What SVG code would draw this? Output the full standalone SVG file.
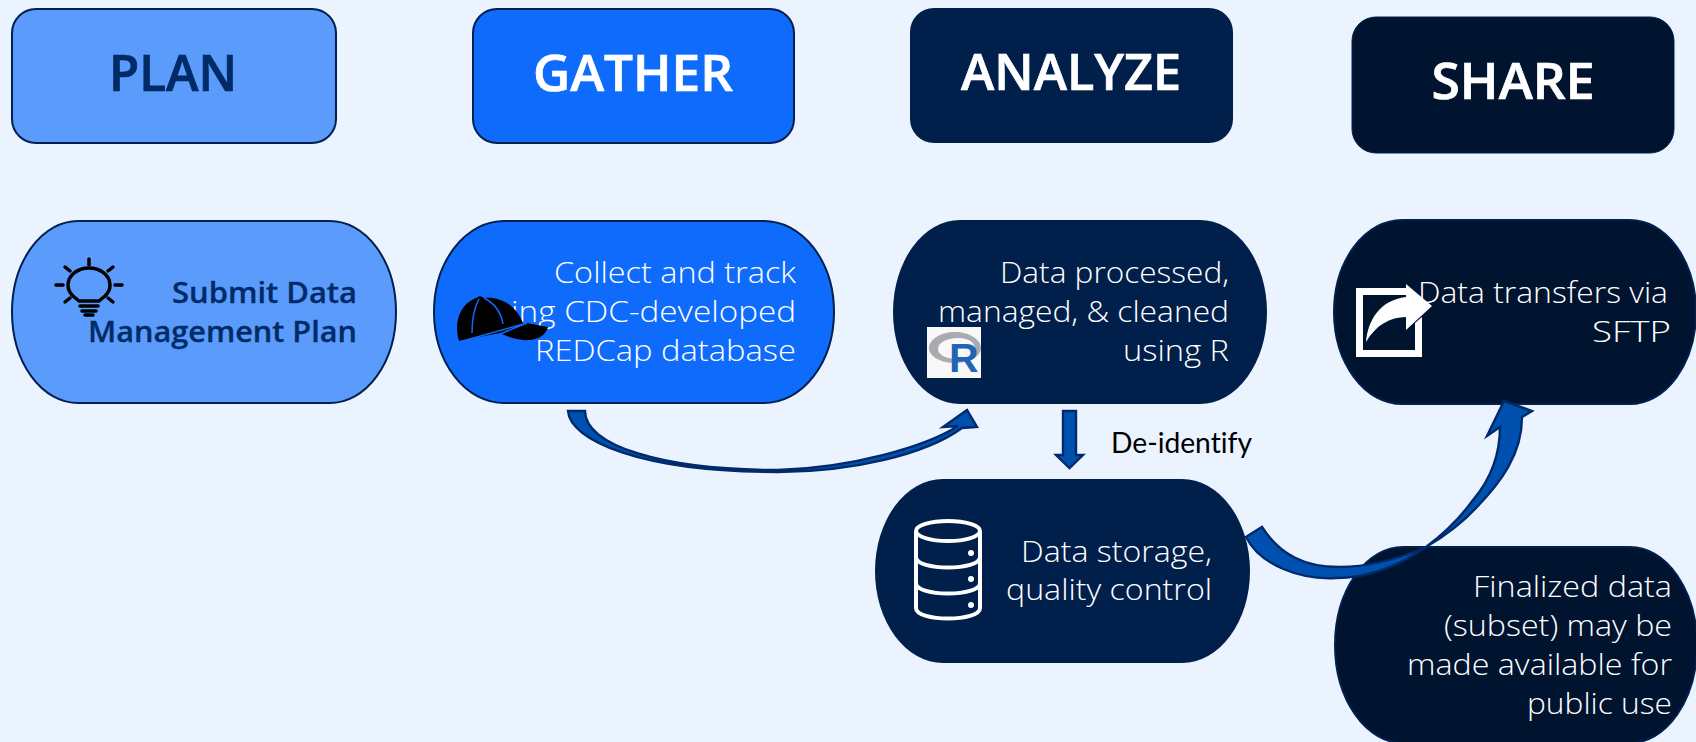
<svg xmlns="http://www.w3.org/2000/svg" width="1696" height="742" viewBox="0 0 1696 742">
<style>
.h{font-family:"Open Sans","Noto Sans",sans-serif;font-size:50px;font-weight:600;text-anchor:middle;fill:#fff;stroke:#fff;stroke-width:.7}
.t{font-family:"Open Sans","Noto Sans",sans-serif;font-size:29.5px;font-weight:300;text-anchor:end;fill:#fff}
.b{font-family:"Open Sans","Noto Sans",sans-serif;font-size:29px;font-weight:600;text-anchor:end;fill:#012b66;stroke:#012b66;stroke-width:.3}
.arrow{fill:#0050b0;stroke:#012a6b;stroke-width:2.4;stroke-linejoin:miter}
.ln{fill:none;stroke:#000;stroke-width:3.5;stroke-linecap:round;stroke-linejoin:round}
.db{fill:none;stroke:#fff;stroke-width:4}
</style>
<rect width="1696" height="742" fill="#ebf3ff"/>
<g id="plan-header"><rect x="12" y="9" width="324" height="134" rx="24" fill="#5b9bfb" stroke="#012050" stroke-width="2"/><text class="h" x="173" y="91" style="fill:#012b66;stroke:#012b66" textLength="128" lengthAdjust="spacingAndGlyphs">PLAN</text></g>
<g id="gather-header"><rect x="473" y="9" width="321" height="134" rx="24" fill="#0f6bfb" stroke="#012050" stroke-width="2"/><text class="h" x="633" y="91" textLength="200" lengthAdjust="spacingAndGlyphs">GATHER</text></g>
<g id="analyze-header"><rect x="910" y="8" width="323" height="135" rx="24" fill="#011f4b"/><text class="h" x="1071" y="90" textLength="220" lengthAdjust="spacingAndGlyphs">ANALYZE</text></g>
<g id="share-header"><rect x="1352" y="17" width="322" height="136" rx="24" fill="#00142f" stroke="#012050" stroke-width="1"/><text class="h" x="1513" y="99" textLength="163" lengthAdjust="spacingAndGlyphs">SHARE</text></g>

<g id="plan-node"><path d="M78,221H330A66,91 0 0 1 396,312A66,91 0 0 1 330,403H78A66,91 0 0 1 12,312A66,91 0 0 1 78,221Z" fill="#5b9bfb" stroke="#012050" stroke-width="2"/>
<g id="bulb"><path class="ln" d="M79,301L73,296A21,17 0 1 1 105,296L99,301Z"/><path class="ln" d="M80,306h18M82,311h14M85,315h8"/><path class="ln" d="M89,259v6M56,285h7M115,285h7M65,267l5,4M113,267l-5,4M65,302l5,-4M113,302l-5,-4"/></g>
<text class="b" x="357" y="303" textLength="185" lengthAdjust="spacingAndGlyphs">Submit Data</text><text class="b" x="357" y="342" textLength="269" lengthAdjust="spacingAndGlyphs">Management Plan</text></g>

<g id="gather-node"><path d="M504,221H764A70,91 0 0 1 834,312A70,91 0 0 1 764,403H504A70,91 0 0 1 434,312A70,91 0 0 1 504,221Z" fill="#0f6bfb" stroke="#012050" stroke-width="2"/>
<text class="t" x="796" y="283" textLength="242" lengthAdjust="spacingAndGlyphs">Collect and track</text><text class="t" x="796" y="322" textLength="320" lengthAdjust="spacingAndGlyphs">using CDC-developed</text><text class="t" x="796" y="361" textLength="261" lengthAdjust="spacingAndGlyphs">REDCap database</text>
<g id="hat"><path d="M459,341C454,325 458,305 476,298L480,296L484,298C500,296 516,305 523,323L527,323L548,327C546,334 540,339 530,340C518,341 508,337 500,333Z" fill="#000"/><path d="M472,333C472,320 474,308 479,299M484,298C494,303 501,312 503,324M500,334L527,323M459,342L527,323" fill="none" stroke="#0f6bfb" stroke-width="1.500"/></g></g>

<g id="analyze-node"><path d="M960,220H1200A67,92 0 0 1 1267,312A67,92 0 0 1 1200,404H960A67,92 0 0 1 893,312A67,92 0 0 1 960,220Z" fill="#011f4b"/>
<text class="t" x="1229" y="283" textLength="229" lengthAdjust="spacingAndGlyphs">Data processed,</text><text class="t" x="1229" y="322" textLength="291" lengthAdjust="spacingAndGlyphs">managed, &amp; cleaned</text><text class="t" x="1229" y="361" textLength="106" lengthAdjust="spacingAndGlyphs">using R</text>
<g id="r-logo"><rect x="927" y="327" width="54" height="51" fill="#f8f8f8"/><path fill-rule="evenodd" d="M955,332C970,332 981,340 981,348C981,356 970,363 955,363C940,363 929,356 929,348C929,340 940,332 955,332ZM958,338C946,338 938,343 938,349C938,355 946,359 958,359C970,359 975,354 975,349C975,343 970,338 958,338Z" fill="#a9abae"/><text x="949" y="372" font-family="'Liberation Sans',sans-serif" font-size="41" font-weight="700" fill="#2165b5">R</text></g></g>

<g id="share-node"><path d="M1402,220H1630A66,92 0 0 1 1696,312A66,92 0 0 1 1630,404H1402A68,92 0 0 1 1334,312A68,92 0 0 1 1402,220Z" fill="#00142f" stroke="#012050" stroke-width="2"/>
<text class="t" x="1668" y="303" textLength="250" lengthAdjust="spacingAndGlyphs">Data transfers via</text><text class="t" x="1671" y="342" textLength="79" lengthAdjust="spacingAndGlyphs">SFTP</text>
<g id="share-icon" fill="#fff"><path d="M1356,288H1406V295H1363V350H1415V323L1422,317V357H1356Z"/><path d="M1366,342C1368,320 1380,300 1406,297V284L1432,306L1406,330V317C1390,317 1376,325 1366,342Z"/></g></g>

<g id="storage-node"><path d="M943,479H1182A68,92 0 0 1 1250,571A68,92 0 0 1 1182,663H943A68,92 0 0 1 875,571A68,92 0 0 1 943,479Z" fill="#011f4b"/>
<g id="db-icon"><ellipse class="db" cx="948" cy="531" rx="32" ry="10"/><path class="db" d="M916,531V608C916,622 980,622 980,608V531M916,557C916,571 980,571 980,557M916,583C916,597 980,597 980,583"/><circle cx="971" cy="553" r="3" fill="#fff"/><circle cx="971" cy="579" r="3" fill="#fff"/><circle cx="971" cy="605" r="3" fill="#fff"/></g>
<text class="t" x="1212" y="562" textLength="191" lengthAdjust="spacingAndGlyphs">Data storage,</text><text class="t" x="1212" y="600" textLength="206" lengthAdjust="spacingAndGlyphs">quality control</text></g>

<g id="finalized-node"><path d="M1403,547H1630A67,98 0 0 1 1697,645A67,98 0 0 1 1630,743H1403A68,98 0 0 1 1335,645A68,98 0 0 1 1403,547Z" fill="#00142f" stroke="#012050" stroke-width="2"/>
<text class="t" x="1672" y="597" textLength="199" lengthAdjust="spacingAndGlyphs">Finalized data</text><text class="t" x="1672" y="636" textLength="228" lengthAdjust="spacingAndGlyphs">(subset) may be</text><text class="t" x="1672" y="675" textLength="265" lengthAdjust="spacingAndGlyphs">made available for</text><text class="t" x="1672" y="714" textLength="145" lengthAdjust="spacingAndGlyphs">public use</text></g>

<g id="connectors">
<path class="arrow" d="M568,411C570,440 640,472 778,472C850,472 925,455 962,428L977,427L967,410L943,427L958,426C925,447 850,468 778,470C660,470 585,445 585,411Z"/>
<path class="arrow" d="M1063,411H1076V455H1083L1069.500,468L1056,455H1063Z"/>
<path class="arrow" d="M1246,537C1260,565 1300,580 1336,578C1370,578 1400,565 1426,547C1450,533 1465,520 1477,507C1500,483 1522,455 1522,417L1532,411L1504,401L1487,436L1500,427C1500,455 1490,480 1473,500C1460,518 1445,533 1426,547C1400,558 1370,567 1339,567C1305,567 1280,555 1262,527Z"/>
</g>
<text id="deidentify" x="1111" y="453" font-family="Lato,'Open Sans',sans-serif" font-size="28" fill="#000" style="font-variant-ligatures:none" textLength="141" lengthAdjust="spacingAndGlyphs">De-identify</text>
</svg>
